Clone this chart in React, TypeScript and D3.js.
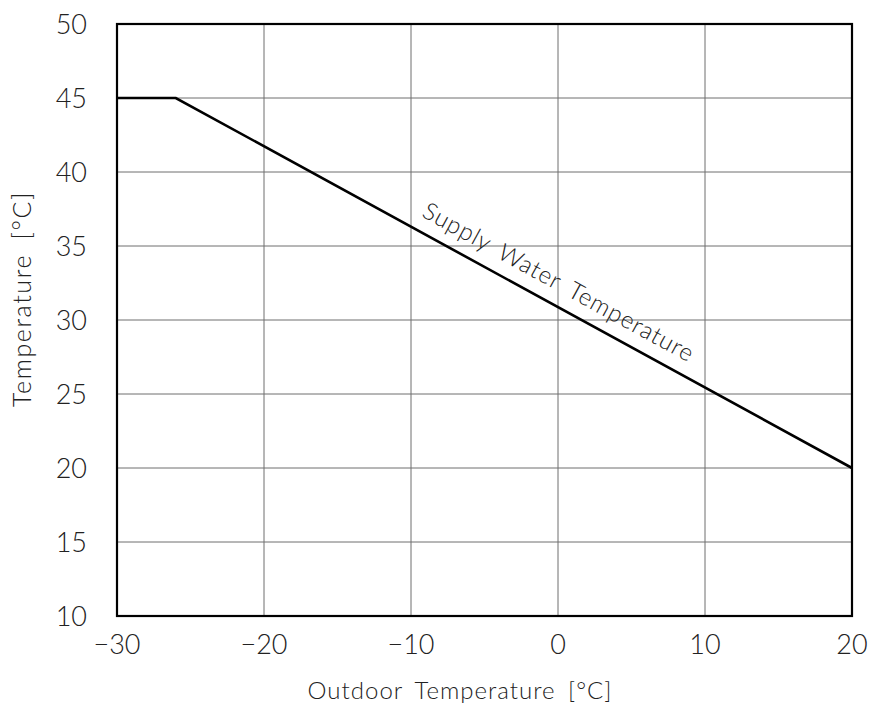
import React from 'react';
import * as d3 from 'd3';

// curve points
const outdoorTemps = [-30, -26, 20];
const supplyTemps = [45, 45, 20];
const xTicks = [-30, -20, -10, 0, 10, 20];
const yTicks = [10, 15, 20, 25, 30, 35, 40, 45, 50];
const curveLabel = 'Supply Water Temperature';
const labelAt = -9.8; // outdoor temp where the label starts

const W = 871;
const H = 709;
const FONT = "Lato, 'DejaVu Sans Condensed', sans-serif";
const TXT = '#222';

export default function App() {
  const x = d3.scaleLinear().domain([-30, 20]).range([117, 852]);
  const y = d3.scaleLinear().domain([10, 50]).range([616, 24]);

  const pts = outdoorTemps.map((t, i) => [t, supplyTemps[i]] as [number, number]);
  const line = d3.line<[number, number]>().x(d => x(d[0])).y(d => y(d[1]));

  // label sits on the sloped segment, rotated to its angle
  const seg = [pts[1], pts[2]];
  const interp = d3.scaleLinear().domain([seg[0][0], seg[1][0]]).range([seg[0][1], seg[1][1]]);
  const angle = Math.atan2(y(seg[1][1]) - y(seg[0][1]), x(seg[1][0]) - x(seg[0][0])) * 180 / Math.PI;
  const lx = x(labelAt);
  const ly = y(interp(labelAt));

  return (
    <svg width={W} height={H} style={{ position: 'absolute', left: 0, top: 0, background: '#fff' }}>
      <g>
        {xTicks.map(t => (
          <line key={'gx' + t} x1={x(t)} x2={x(t)} y1={y(10)} y2={y(50)} stroke="#6e6e6e" strokeWidth={1} />
        ))}
        {yTicks.map(t => (
          <line key={'gy' + t} x1={x(-30)} x2={x(20)} y1={y(t)} y2={y(t)} stroke="#6e6e6e" strokeWidth={1} />
        ))}
      </g>
      <rect x={x(-30)} y={y(50)} width={x(20) - x(-30)} height={y(10) - y(50)} fill="none" stroke="#000" strokeWidth={2.2} />
      <path d={line(pts) || ''} fill="none" stroke="#000" strokeWidth={2.6} />
      <text
        x={lx}
        y={ly}
        transform={`rotate(${angle} ${lx} ${ly})`}
        dy={-14}
        fontFamily={FONT}
        fontWeight={300}
        fontSize={24}
        fill={TXT}
        letterSpacing={0.9}
        wordSpacing={5}
      >
        {curveLabel}
      </text>
      <g fontFamily={FONT} fontWeight={300} fontSize={27} fill={TXT}>
        {yTicks.map(t => (
          <text key={'ty' + t} x={87} y={y(t)} dy="0.36em" textAnchor="end">{t}</text>
        ))}
        {xTicks.map(t => (
          <text key={'tx' + t} x={x(t)} y={654} textAnchor="middle">{t < 0 ? '\u2212' + Math.abs(t) : t}</text>
        ))}
      </g>
      <text x={460} y={699} textAnchor="middle" fontFamily={FONT} fontWeight={300} fontSize={24} fill={TXT} letterSpacing={1} wordSpacing={5}>
        Outdoor Temperature [°C]
      </text>
      <text
        transform={`translate(31 299) rotate(-90)`}
        textAnchor="middle"
        fontFamily={FONT}
        fontWeight={300}
        fontSize={25}
        fill={TXT}
        letterSpacing={1.6}
        wordSpacing={6}
      >
        Temperature [°C]
      </text>
    </svg>
  );
}
